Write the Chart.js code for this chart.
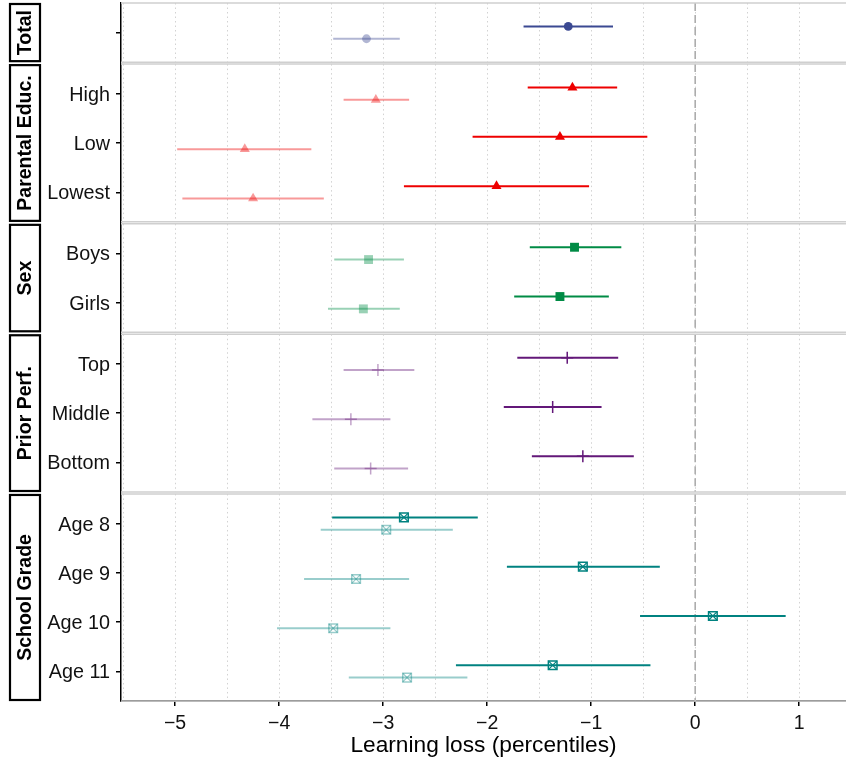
<!DOCTYPE html>
<html>
<head>
<meta charset="utf-8">
<script src="https://cdn.jsdelivr.net/npm/chart.js@4.4.1/dist/chart.umd.min.js"></script>
<style>
  html, body { margin: 0; padding: 0; background: #fff; }
  canvas { display: block; }
</style>
</head>
<body>
<canvas id="chart" width="846" height="767"></canvas>
<script>
// facets, top to bottom
const panelNames = ["Total", "Parental Educ.", "Sex", "Prior Perf.", "School Grade"];
const panelColors = ["#3B4992", "#EE0000", "#008B45", "#631879", "#008280"];

// one entry per row
const rowLabels = ["", "High", "Low", "Lowest", "Boys", "Girls", "Top", "Middle", "Bottom", "Age 8", "Age 9", "Age 10", "Age 11"];
const rowPanel = [0, 1, 1, 1, 2, 2, 3, 3, 3, 4, 4, 4, 4];

// dark series (estimate and interval)
const darkEst = [-1.22, -1.18, -1.30, -1.91, -1.16, -1.30, -1.23, -1.37, -1.08, -2.80, -1.08, 0.17, -1.37];
const darkLo  = [-1.65, -1.61, -2.14, -2.80, -1.59, -1.74, -1.71, -1.84, -1.57, -3.49, -1.81, -0.53, -2.30];
const darkHi  = [-0.79, -0.75, -0.46, -1.02, -0.71, -0.83, -0.74, -0.90, -0.59, -2.09, -0.34, 0.87, -0.43];

// light series (estimate and interval)
const lightEst = [-3.16, -3.07, -4.33, -4.25, -3.14, -3.19, -3.05, -3.31, -3.12, -2.97, -3.26, -3.48, -2.77];
const lightLo  = [-3.48, -3.38, -4.98, -4.93, -3.47, -3.53, -3.38, -3.68, -3.47, -3.60, -3.76, -4.02, -3.33];
const lightHi  = [-2.84, -2.75, -3.69, -3.57, -2.80, -2.84, -2.70, -2.93, -2.76, -2.33, -2.75, -2.93, -2.19];

const xTicks = [-5, -4, -3, -2, -1, 0, 1];
const xTitle = "Learning loss (percentiles)";

const FONT = "'Liberation Sans', Arial, Helvetica, sans-serif";
const PAD = 0.6;    // space above first / below last row of a facet
const GAP = 0.04;   // space between facets
const DODGE = 0.125;

// row positions on the y scale
const panelStart = [], panelEnd = [], rowPos = [];
let cursor = 0;
panelNames.forEach((name, p) => {
  const rows = rowPanel.map((q, i) => q === p ? i : -1).filter(i => i >= 0);
  panelStart[p] = cursor;
  rows.forEach((i, k) => { rowPos[i] = cursor + PAD + k; });
  cursor += rows.length - 1 + 2 * PAD;
  panelEnd[p] = cursor;
  cursor += GAP;
});
const yMax = cursor - GAP;

function fade(hex, a) {
  const n = parseInt(hex.slice(1), 16);
  return `rgba(${n >> 16}, ${(n >> 8) & 255}, ${n & 255}, ${a})`;
}

const styles = [
  { pointStyle: "circle", radius: 4.4, fill: true },
  { pointStyle: "triangle", radius: 5.8, fill: true },
  { pointStyle: "rect", radius: 6.3, fill: true },
  { pointStyle: "cross", radius: 6, fill: false },
  { pointStyle: "rect", radius: 6.1, fill: false, overlay: "crossRot" }
];

const datasets = [];
panelNames.forEach((name, p) => {
  const idx = rowPanel.map((q, i) => q === p ? i : -1).filter(i => i >= 0);
  const st = styles[p];
  [["dark", darkEst, -DODGE, 1], ["light", lightEst, DODGE, 0.4]].forEach(([tone, est, off, a]) => {
    const col = a === 1 ? panelColors[p] : fade(panelColors[p], a);
    const pts = idx.map(i => ({ x: est[i], y: rowPos[i] + off }));
    datasets.push({
      label: name + " " + tone,
      data: pts,
      pointStyle: st.pointStyle,
      pointRadius: st.radius,
      pointHoverRadius: st.radius,
      backgroundColor: st.fill ? col : "rgba(0,0,0,0)",
      borderColor: col,
      borderWidth: st.fill ? 0 : 1.5
    });
    if (st.overlay) {
      datasets.push({
        label: name + " " + tone + " x",
        data: pts,
        pointStyle: st.overlay,
        pointRadius: st.radius,
        pointHoverRadius: st.radius,
        borderColor: col,
        borderWidth: 1.2
      });
    }
  });
});

// no extra padding from edge tick labels
function noPad(s) {
  s.paddingTop = 0; s.paddingBottom = 0; s.paddingLeft = 0; s.paddingRight = 0;
}

const facetPlugin = {
  id: "facets",
  beforeDatasetsDraw(chart) {
    const { ctx, chartArea: ca, scales: { x, y } } = chart;
    ctx.save();
    panelNames.forEach((name, p) => {
      const top = y.getPixelForValue(panelStart[p]);
      const bot = y.getPixelForValue(panelEnd[p]);
      // dotted grid every half unit
      ctx.strokeStyle = "#d2d2d2";
      ctx.lineWidth = 1;
      ctx.setLineDash([1.5, 3]);
      for (let v = -5.5; v <= 1.5; v += 0.5) {
        const px = Math.round(x.getPixelForValue(v)) + 0.5;
        if (px <= ca.left + 1 || px >= ca.right) continue;
        ctx.beginPath(); ctx.moveTo(px, top); ctx.lineTo(px, bot); ctx.stroke();
      }
      // zero reference
      ctx.strokeStyle = "#a8a8a8";
      ctx.lineWidth = 1.5;
      ctx.setLineDash([8, 4]);
      const zx = x.getPixelForValue(0);
      ctx.beginPath(); ctx.moveTo(zx, top); ctx.lineTo(zx, bot); ctx.stroke();
      // facet frame
      ctx.setLineDash([]);
      ctx.strokeStyle = "#cfcfcf";
      ctx.lineWidth = 1.5;
      ctx.beginPath();
      ctx.moveTo(ca.left, top); ctx.lineTo(ca.right, top);
      ctx.moveTo(ca.left, bot); ctx.lineTo(ca.right, bot);
      ctx.stroke();
    });
    // interval bars
    ctx.lineWidth = 2;
    rowLabels.forEach((lab, i) => {
      const c = panelColors[rowPanel[i]];
      [[lightLo, lightHi, DODGE, fade(c, 0.4)], [darkLo, darkHi, -DODGE, c]].forEach(([lo, hi, off, col]) => {
        const py = y.getPixelForValue(rowPos[i] + off);
        ctx.strokeStyle = col;
        ctx.beginPath();
        ctx.moveTo(x.getPixelForValue(lo[i]), py);
        ctx.lineTo(x.getPixelForValue(hi[i]), py);
        ctx.stroke();
      });
    });
    ctx.restore();
  },
  afterDraw(chart) {
    const { ctx, scales: { y } } = chart;
    ctx.save();
    panelNames.forEach((name, p) => {
      const top = y.getPixelForValue(panelStart[p]);
      const bot = y.getPixelForValue(panelEnd[p]);
      ctx.fillStyle = "#fff";
      ctx.strokeStyle = "#000";
      ctx.lineWidth = 2.2;
      ctx.fillRect(10, top + 1, 30, bot - top - 2);
      ctx.strokeRect(10, top + 1, 30, bot - top - 2);
      ctx.translate(25, (top + bot) / 2);
      ctx.rotate(-Math.PI / 2);
      ctx.fillStyle = "#000";
      ctx.font = "bold 19.5px " + FONT;
      ctx.textAlign = "center";
      ctx.textBaseline = "middle";
      ctx.fillText(name, 0, 1);
      ctx.setTransform(1, 0, 0, 1, 0, 0);
    });
    ctx.restore();
  }
};

new Chart(document.getElementById("chart"), {
  type: "scatter",
  data: { datasets },
  options: {
    responsive: false,
    animation: false,
    events: [],
    layout: { autoPadding: false, padding: { top: 3, right: 0, left: 0, bottom: 0 } },
    plugins: { legend: { display: false }, tooltip: { enabled: false } },
    scales: {
      x: {
        type: "linear",
        min: -5.52,
        max: 1.45,
        afterBuildTicks: s => { s.ticks = xTicks.map(v => ({ value: v })); },
        afterFit: s => { s.height = 66; noPad(s); },
        grid: { drawOnChartArea: false, drawTicks: true, tickLength: 5, color: "#000", lineWidth: 1.5 },
        border: { display: true, color: "#000", width: 1.5 },
        ticks: {
          color: "#111",
          padding: 6,
          font: { family: FONT, size: 19.5 },
          callback: v => (v < 0 ? "\u2212" + Math.abs(v) : String(v))
        },
        title: {
          display: true,
          text: xTitle,
          color: "#000",
          font: { family: FONT, size: 22.7 },
          padding: { top: 0, bottom: 8 }
        }
      },
      y: {
        type: "linear",
        reverse: true,
        min: 0,
        max: yMax,
        afterBuildTicks: s => { s.ticks = rowPos.map(v => ({ value: v })); },
        afterFit: s => { s.width = 121; noPad(s); },
        grid: { drawOnChartArea: false, drawTicks: true, tickLength: 5, color: "#000", lineWidth: 1.5 },
        border: { display: true, color: "#000", width: 1.5 },
        ticks: {
          autoSkip: false,
          color: "#111",
          padding: 6,
          labelOffset: 1.5,
          font: { family: FONT, size: 19.8 },
          callback: (v, i) => rowLabels[i]
        }
      }
    }
  },
  plugins: [facetPlugin]
});
</script>
</body>
</html>
